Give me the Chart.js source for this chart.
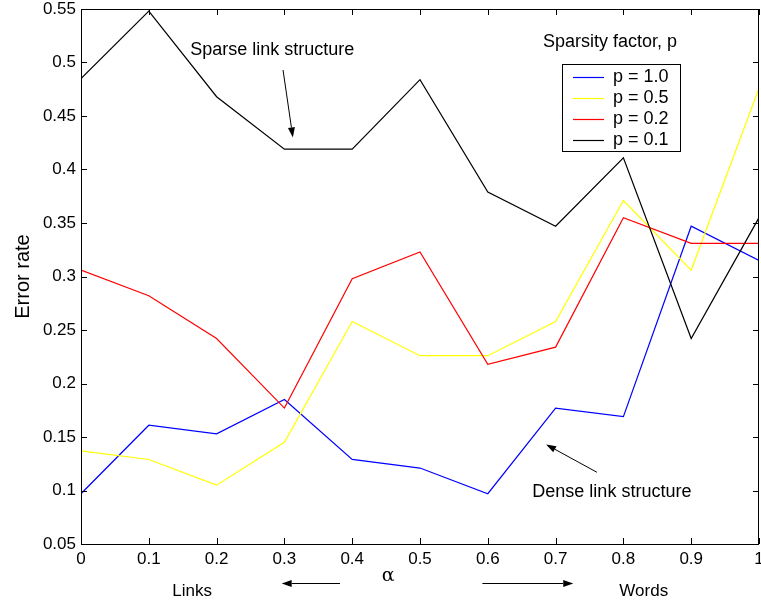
<!DOCTYPE html>
<html>
<head>
<meta charset="utf-8">
<script src="https://cdn.jsdelivr.net/npm/chart.js@4/dist/chart.umd.min.js"></script>
<style>
html,body{margin:0;padding:0;background:#fff;}
#wrap{width:761px;height:604px;}
</style>
</head>
<body>
<div id="wrap"><canvas id="c" width="761" height="604"></canvas></div>
<script>
const alphaValues = [0, 0.1, 0.2, 0.3, 0.4, 0.5, 0.6, 0.7, 0.8, 0.9, 1.0];
const seriesLabels = ['p = 1.0', 'p = 0.5', 'p = 0.2', 'p = 0.1'];
const p10 = [0.097, 0.161, 0.153, 0.185, 0.129, 0.121, 0.097, 0.177, 0.169, 0.347, 0.315];
const p05 = [0.137, 0.129, 0.105, 0.145, 0.258, 0.226, 0.226, 0.258, 0.371, 0.306, 0.476];
const p02 = [0.306, 0.282, 0.242, 0.177, 0.298, 0.323, 0.218, 0.234, 0.355, 0.331, 0.331];
const p01 = [0.485, 0.548, 0.468, 0.419, 0.419, 0.484, 0.379, 0.347, 0.411, 0.242, 0.355];
const seriesColors = ['#0000ff', '#ffff00', '#ff0000', '#000000'];
const yTicks = [0.05, 0.1, 0.15, 0.2, 0.25, 0.3, 0.35, 0.4, 0.45, 0.5, 0.55];
const xTicks = [0, 0.1, 0.2, 0.3, 0.4, 0.5, 0.6, 0.7, 0.8, 0.9, 1];

const FONT = '"Liberation Sans", Arial, Helvetica, sans-serif';
const allSeries = [p10, p05, p02, p01];

const datasets = allSeries.map((vals, i) => ({
  label: seriesLabels[i],
  data: vals.map((v, j) => ({x: alphaValues[j], y: v})),
  borderColor: seriesColors[i],
  backgroundColor: seriesColors[i],
  borderWidth: 1.2,
  pointRadius: 0,
  tension: 0,
  fill: false,
  order: allSeries.length - i
}));

function arrow(ctx, x1, y1, x2, y2) {
  const ang = Math.atan2(y2 - y1, x2 - x1);
  const hl = 10, hw = 3.5;
  ctx.beginPath();
  ctx.moveTo(x1, y1);
  ctx.lineTo(x2 - hl * Math.cos(ang), y2 - hl * Math.sin(ang));
  ctx.stroke();
  ctx.beginPath();
  ctx.moveTo(x2, y2);
  ctx.lineTo(x2 - hl * Math.cos(ang) + hw * Math.sin(ang), y2 - hl * Math.sin(ang) - hw * Math.cos(ang));
  ctx.lineTo(x2 - hl * Math.cos(ang) - hw * Math.sin(ang), y2 - hl * Math.sin(ang) + hw * Math.cos(ang));
  ctx.closePath();
  ctx.fill();
}

const decor = {
  id: 'decor',
  afterDraw(chart) {
    const ctx = chart.ctx;
    const a = chart.chartArea;
    const xs = chart.scales.x, ys = chart.scales.y;
    ctx.save();
    ctx.strokeStyle = '#000';
    ctx.fillStyle = '#000';
    ctx.lineWidth = 1;
    // box
    ctx.strokeRect(Math.round(a.left) + 0.5, Math.round(a.top) + 0.5, Math.round(a.right - a.left) - 1, Math.round(a.bottom - a.top));
    // inward ticks
    const tl = 6;
    ctx.beginPath();
    xTicks.forEach(v => {
      const px = Math.round(xs.getPixelForValue(v)) + 0.5;
      ctx.moveTo(px, a.bottom); ctx.lineTo(px, a.bottom - tl);
      ctx.moveTo(px, a.top); ctx.lineTo(px, a.top + tl);
    });
    yTicks.forEach(v => {
      const py = Math.round(ys.getPixelForValue(v)) + 0.5;
      ctx.moveTo(a.left, py); ctx.lineTo(a.left + tl, py);
      ctx.moveTo(a.right, py); ctx.lineTo(a.right - tl, py);
    });
    ctx.stroke();

    // annotations
    ctx.font = '18px ' + FONT;
    ctx.textBaseline = 'middle';
    ctx.textAlign = 'center';
    ctx.fillText('Sparse link structure', xs.getPixelForValue(0.282), ys.getPixelForValue(0.512));
    arrow(ctx, xs.getPixelForValue(0.298), ys.getPixelForValue(0.493), xs.getPixelForValue(0.3125), ys.getPixelForValue(0.43));
    ctx.fillText('Dense link structure', xs.getPixelForValue(0.783), ys.getPixelForValue(0.0985));
    arrow(ctx, xs.getPixelForValue(0.761), ys.getPixelForValue(0.117), xs.getPixelForValue(0.686), ys.getPixelForValue(0.143));

    // legend
    ctx.textAlign = 'left';
    ctx.fillText('Sparsity factor, p', a.left + 462, a.top + 33);
    const lx = a.left + 481, ly = a.top + 55, lw = 118, lh = 87;
    ctx.fillStyle = '#fff';
    ctx.fillRect(lx, ly, lw, lh);
    ctx.strokeStyle = '#000';
    ctx.strokeRect(lx + 0.5, ly + 0.5, lw, lh);
    chart.data.datasets.forEach((ds, i) => {
      const yy = ly + 13 + i * 21;
      ctx.strokeStyle = ds.borderColor;
      ctx.lineWidth = 1.2;
      ctx.beginPath();
      ctx.moveTo(lx + 11, yy + 0.5); ctx.lineTo(lx + 42, yy + 0.5);
      ctx.stroke();
      ctx.fillStyle = '#000';
      ctx.fillText(ds.label, lx + 51, yy);
    });

    // bottom labels
    ctx.strokeStyle = '#000';
    ctx.fillStyle = '#000';
    ctx.lineWidth = 1;
    ctx.textAlign = 'center';
    ctx.font = '17px ' + FONT;
    ctx.fillText('Links', xs.getPixelForValue(0.164), a.bottom + 47);
    ctx.fillText('Words', xs.getPixelForValue(0.83), a.bottom + 47);
    ctx.font = '19px "DejaVu Serif", serif';
    ctx.fillText('α', xs.getPixelForValue(0.453), a.bottom + 32);
    arrow(ctx, xs.getPixelForValue(0.382), a.bottom + 39.5, xs.getPixelForValue(0.296), a.bottom + 39.5);
    arrow(ctx, xs.getPixelForValue(0.592), a.bottom + 39.5, xs.getPixelForValue(0.726), a.bottom + 39.5);
    ctx.restore();
  }
};

new Chart(document.getElementById('c'), {
  type: 'line',
  data: { datasets },
  options: {
    responsive: false,
    animation: false,
    layout: { padding: { left: 0, right: 2, top: 9, bottom: 0 } },
    plugins: { legend: { display: false }, tooltip: { enabled: false } },
    scales: {
      x: {
        type: 'linear', min: 0, max: 1,
        afterBuildTicks(s) { s.ticks = xTicks.map(v => ({value: v})); },
        afterFit(s) { s.height = 60; s.paddingLeft = 0; s.paddingRight = 0; },
        grid: { display: false, drawTicks: false },
        border: { display: false },
        ticks: {
          padding: 5, color: '#000', maxRotation: 0, autoSkip: false,
          font: { family: FONT, size: 17 },
          callback: v => String(Number(v.toFixed(2)))
        }
      },
      y: {
        type: 'linear', min: 0.05, max: 0.55,
        afterBuildTicks(s) { s.ticks = yTicks.map(v => ({value: v})); },
        afterFit(s) { s.width = 81; s.paddingTop = 0; s.paddingBottom = 0; },
        grid: { display: false, drawTicks: false },
        border: { display: false },
        title: { display: true, text: 'Error rate', color: '#000', font: { family: FONT, size: 20 }, padding: { top: 11, bottom: 2 } },
        ticks: {
          padding: 5, color: '#000', autoSkip: false,
          font: { family: FONT, size: 17 },
          callback: v => String(Number(v.toFixed(2)))
        }
      }
    }
  },
  plugins: [decor]
});
</script>
</body>
</html>
